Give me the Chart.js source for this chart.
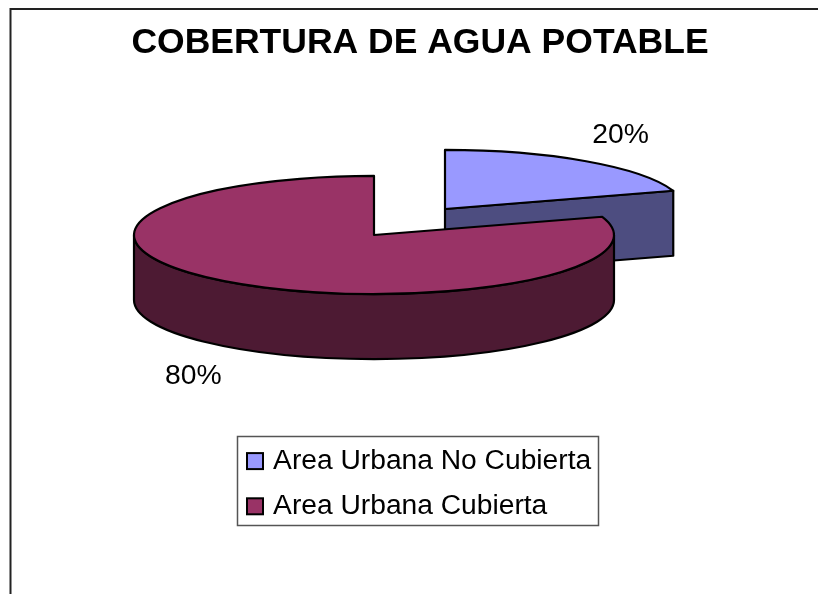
<!DOCTYPE html>
<html><head><meta charset="utf-8">
<style>html,body{margin:0;padding:0;background:#fff;overflow:hidden}canvas{display:block}</style>
<script src="https://cdn.jsdelivr.net/npm/chart.js@4"></script>
</head><body><canvas id="c" width="818" height="594"></canvas>
<script>
const titleText = 'COBERTURA DE AGUA POTABLE';
const categories = ['Area Urbana No Cubierta', 'Area Urbana Cubierta'];
const coverage = [20, 80];
const topColors = ['#9999FF', '#993366'];
const wallColors = ['#4D4D80', '#4D1A33'];

// 3D layout
const FONT = '"Liberation Sans", Arial, sans-serif';
const CENTER = {x: 374, y: 235};
const RADIUS = 240, TILT = 0.246, DEPTH = 65;
const SHIFTS = [{dx: 71, dy: -26}, {dx: 0, dy: 0}];
const LABEL_GAP = {x: 37, y: 27};
const LABEL_NUDGE = {x: -2.5, y: 1};
const LEGEND_BOX = {l: 237.5, t: 436.5, w: 361, h: 89};

function geom(el, i) {
  const p = el.getProps(['startAngle', 'endAngle', 'outerRadius']);
  return {cx: CENTER.x + SHIFTS[i].dx, cy: CENTER.y + SHIFTS[i].dy,
          a0: p.startAngle, a1: p.endAngle, r: p.outerRadius};
}
function pt(g, a, dz) {
  return [g.cx + g.r * Math.cos(a), g.cy + TILT * g.r * Math.sin(a) + (dz || 0)];
}
function drawWalls(ctx, g, color) {
  ctx.fillStyle = color; ctx.strokeStyle = '#000'; ctx.lineWidth = 2.2; ctx.lineJoin = 'round';
  const paint = () => { ctx.fill(); ctx.stroke(); };
  // radial wall facing the viewer
  [[g.a1, Math.cos(g.a1)], [g.a0, -Math.cos(g.a0)]].forEach(([a, facing]) => {
    if (facing > 0.01) {
      const e = pt(g, a), b = pt(g, a, DEPTH);
      ctx.beginPath();
      ctx.moveTo(g.cx, g.cy); ctx.lineTo(e[0], e[1]); ctx.lineTo(b[0], b[1]); ctx.lineTo(g.cx, g.cy + DEPTH);
      ctx.closePath(); paint();
    }
  });
  // curved front wall
  const s = Math.max(g.a0, 0), t = Math.min(g.a1, Math.PI);
  if (t > s) {
    ctx.beginPath();
    ctx.ellipse(g.cx, g.cy, g.r, g.r * TILT, 0, s, t);
    ctx.ellipse(g.cx, g.cy + DEPTH, g.r, g.r * TILT, 0, t, s, true);
    ctx.closePath(); paint();
  }
}
function outlineTop(ctx, g) {
  ctx.strokeStyle = '#000'; ctx.lineWidth = 2.2; ctx.lineJoin = 'round';
  ctx.beginPath();
  ctx.moveTo(g.cx, g.cy);
  ctx.ellipse(g.cx, g.cy, g.r, g.r * TILT, 0, g.a0, g.a1);
  ctx.closePath(); ctx.stroke();
}

const pie3d = {
  id: 'pie3d',
  afterLayout(chart) {
    const lg = chart.legend, tb = chart.titleBlock;
    const w = lg.width, h = lg.height;
    lg.left = 230; lg.top = 430; lg.right = lg.left + w; lg.bottom = lg.top + h;
    tb.left += 11; tb.right += 11; tb.top += 4; tb.bottom += 4;
  },
  beforeDraw(chart) {
    const ctx = chart.ctx;
    ctx.save();
    ctx.strokeStyle = '#222'; ctx.lineWidth = 2;
    ctx.beginPath(); ctx.moveTo(10.5, 594); ctx.lineTo(10.5, 9); ctx.lineTo(818, 9); ctx.stroke();
    const b = LEGEND_BOX;
    ctx.strokeStyle = '#555'; ctx.lineWidth = 1.5;
    ctx.strokeRect(b.l, b.t, b.w, b.h);
    ctx.restore();
  },
  beforeDatasetDraw(chart, args) {
    const ctx = chart.ctx, arcs = args.meta.data;
    ctx.save();
    arcs.forEach((el, i) => drawWalls(ctx, geom(el, i), wallColors[i]));
    arcs.forEach((el, i) => {
      ctx.save();
      ctx.translate(CENTER.x + SHIFTS[i].dx, CENTER.y + SHIFTS[i].dy);
      ctx.scale(1, TILT);
      ctx.translate(-el.x, -el.y);
      el.draw(ctx);
      ctx.restore();
    });
    arcs.forEach((el, i) => outlineTop(ctx, geom(el, i)));
    ctx.fillStyle = '#000'; ctx.font = '28.3px ' + FONT;
    ctx.textAlign = 'center'; ctx.textBaseline = 'middle';
    const total = coverage.reduce((a, b) => a + b, 0);
    arcs.forEach((el, i) => {
      const g = geom(el, i), mid = (g.a0 + g.a1) / 2;
      const front = Math.sin(mid) > 0;
      const o = pt(g, mid, front ? DEPTH : 0);
      const x = o[0] + Math.sign(Math.cos(mid)) * LABEL_GAP.x + LABEL_NUDGE.x;
      const y = o[1] + Math.sign(Math.sin(mid)) * LABEL_GAP.y + LABEL_NUDGE.y;
      ctx.fillText(Math.round(coverage[i] / total * 100) + '%', x, y);
    });
    ctx.restore();
    return false;
  },
  afterDraw(chart) {
    const ctx = chart.ctx, lg = chart.legend, o = lg.options.labels;
    const x = lg.left + o.padding;
    ctx.save();
    ctx.strokeStyle = '#000'; ctx.lineWidth = 2;
    coverage.forEach((_, i) => {
      const y = lg.top + o.padding + i * (o.font.size + o.padding) + (o.font.size - o.boxHeight) / 2;
      ctx.fillStyle = topColors[i];
      ctx.fillRect(x, y, 16, o.boxHeight);
      ctx.strokeRect(x, y, 16, o.boxHeight);
    });
    ctx.restore();
  }
};

new Chart(document.getElementById('c'), {
  type: 'pie',
  data: {
    labels: categories,
    datasets: [{data: coverage, backgroundColor: topColors, borderWidth: 0, radius: RADIUS, clip: false}]
  },
  options: {
    responsive: false,
    animation: false,
    plugins: {
      tooltip: {enabled: false},
      title: {display: true, text: titleText, color: '#000', align: 'center',
              font: {family: FONT, size: 35.5, weight: 'bold', lineHeight: 1},
              padding: {top: 21, bottom: 10}},
      legend: {
        position: 'right', align: 'start',
        labels: {
          color: '#000', boxWidth: 12, boxHeight: 16, padding: 17,
          font: {family: FONT, size: 28.2, lineHeight: 1}
        }
      }
    }
  },
  plugins: [pie3d]
});
</script></body></html>
